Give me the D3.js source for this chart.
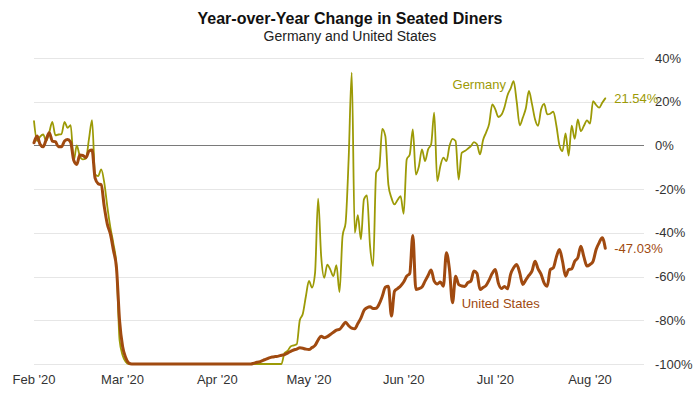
<!DOCTYPE html>
<html lang="en">
<head>
  <meta charset="UTF-8">
  <title>Year-over-Year Change in Seated Diners</title>
  <style>
    body {
      margin: 0;
      background: white;
      font-family: "Liberation Sans", Arial, sans-serif;
    }
    .title {
      font-weight: bold;
      font-size: 16px;
      fill: #111;
    }
    .subtitle {
      font-size: 14px;
      fill: #222;
    }
    .tick-label {
      font-size: 13px;
      fill: #333;
    }
  </style>
</head>
<body>
  <svg></svg>
  <script src="https://d3js.org/d3.v7.min.js"></script>
  <script>
    // daily values, starting Feb 1 2020
    var startDate = "2020-02-01";

    var germany = [
      11.1, 2, 4, 5, 2, 6, 10.8, 4.6, 5, 5.2,
      10.8, 8, 9.3, -7, 0, -4.9, -6.4, -6, 3, 11.6,
      -13.3, -14, -11, -17, -28, -37.5, -45, -55, -89, -96,
      -99, -100, -100, -100, -100, -100, -100, -100, -100, -100,
      -100, -100, -100, -100, -100, -100, -100, -100, -100, -100,
      -100, -100, -100, -100, -100, -100, -100, -100, -100, -100,
      -100, -100, -100, -100, -100, -100, -100, -100, -100, -100,
      -100, -100, -100, -100, -100, -100, -100, -100, -100, -100,
      -100, -100, -95, -94, -92, -91.5, -91, -80, -77, -69,
      -62, -65, -58.3, -24.4, -50.7, -60.6, -54.5, -56.8, -59.8, -54.8,
      -67.1, -41.5, -35.4, -6, 33.3, -40, -31.9, -43, -24.7, -22.9,
      -46.1, -55.2, -12.5, -10.2, 7.6, 4.3, -17.9, -24, -27, -25,
      -23.2, -31.3, -6.4, -4.1, 7.3, -13.3, -9.5, -1.8, -7.2, -1.8,
      0.5, 15, -16.3, -9.5, -5.6, -7.2, -0.3, 3, 2, -15.6,
      -3.4, -2.6, -1.5, -0.3, 1.5, 0.5, -4.1, 2.5, 6, 10,
      18.8, 16.5, 13, 14, 17.5, 23, 26, 29.4, 20, 9.2,
      12.7, 17, 24.9, 19, 12, 9, 16.5, 19, 14.2, 14.5,
      15.5, 9, 0, -2.6, 5.5, -4.6, 9, 3, 11.9, 6.5,
      9, 11.5, 10, 20.3, 18.5, 17.3, 19.5, 21.54
    ];

    var unitedStates = [
      1.2, 4.3, 0.5, -0.6, 2.7, 5.8, 2, 1.7, -0.6, -0.6,
      2, 2.7, 1.5, -6.8, -8.7, -4.4, -4.6, -5.6, -2.6, -2.1,
      -15, -17.5, -18, -28, -36, -40.5, -48, -56, -80, -92,
      -97, -99.5, -100, -100, -100, -100, -100, -100, -100, -100,
      -100, -100, -100, -100, -100, -100, -100, -100, -100, -100,
      -100, -100, -100, -100, -100, -100, -100, -100, -100, -100,
      -100, -100, -100, -100, -100, -100, -100, -100, -100, -100,
      -100, -100, -99.6, -99.2, -98.9, -98.3, -97.8, -97.2, -96.8, -96.6,
      -96.4, -96, -95.7, -95, -94.2, -93.6, -93.2, -92.6, -92.8, -93.2,
      -93.4, -92.5, -91.5, -89, -87.3, -88, -87.5, -86.5, -85.5, -84.5,
      -84.2, -82.5, -80.9, -82.5, -83.6, -83.9, -81.5, -79, -75.5, -74.3,
      -73.8, -74.6, -74.5, -72.5, -69, -64.9, -64.4, -78, -66.7, -65.5,
      -64.3, -62.5, -59.8, -58.6, -41.2, -65.9, -65.5, -64.8, -62.1, -59.5,
      -57, -62.1, -63.4, -62.5, -64.4, -49.1, -56.8, -72, -59.8, -63.6,
      -64.3, -64.5, -62.8, -62.1, -57.5, -58.5, -65.9, -65, -64, -61.5,
      -58.5, -56.8, -63, -65.5, -64.5, -65.6, -59, -56, -54.5, -58.3,
      -63.6, -61.5, -59.5, -57.5, -53, -56.5, -59, -63, -64.4, -56.8,
      -56, -51, -47.6, -53, -59.8, -56.8, -56.5, -53, -51.4, -46.1,
      -51, -55.2, -54.5, -53, -47.6, -44.5, -42.2, -47.03
    ];

    var yTicks = [40, 20, 0, -20, -40, -60, -80, -100];
    var xTickDates = ["2020-02-01", "2020-03-01", "2020-04-01", "2020-05-01",
                      "2020-06-01", "2020-07-01", "2020-08-01"];

    var series = [
      { name: "Germany", values: germany, color: "#9c9a06", width: 1.8,
        labelDate: "2020-06-17", labelValue: 28 },
      { name: "United States", values: unitedStates, color: "#a04a10", width: 3,
        labelDate: "2020-06-20", labelValue: -72.3 }
    ];

    var width = 700;
    var height = 394;
    var parse = d3.utcParse("%Y-%m-%d");
    var start = parse(startDate);

    var x = d3.scaleUtc()
              .domain([start, parse("2020-08-19")])
              .range([34, 645]);

    var y = d3.scaleLinear()
              .domain([-100, 40])
              .range([364, 58]);

    var svg = d3.select("svg")
        .attr("width", width)
        .attr("height", height);

    svg.append("text")
        .attr("class", "title")
        .attr("x", 350)
        .attr("y", 24)
        .attr("text-anchor", "middle")
        .text("Year-over-Year Change in Seated Diners");

    svg.append("text")
        .attr("class", "subtitle")
        .attr("x", 350)
        .attr("y", 41)
        .attr("text-anchor", "middle")
        .text("Germany and United States");

    // grid + right axis labels
    svg.append("g")
      .selectAll("line")
      .data(yTicks)
      .enter()
      .append("line")
        .attr("x1", 34)
        .attr("x2", 644)
        .attr("y1", d => Math.round(y(d)) + 0.5)
        .attr("y2", d => Math.round(y(d)) + 0.5)
        .attr("stroke", d => d === 0 ? "#7a7a7a" : "#e6e6e6")
        .attr("stroke-width", d => d === 0 ? 1.2 : 1);

    svg.append("g")
      .selectAll("text")
      .data(yTicks)
      .enter()
      .append("text")
        .attr("class", "tick-label")
        .attr("x", 655)
        .attr("y", d => y(d))
        .attr("dy", "0.35em")
        .text(d => d + "%");

    svg.append("g")
      .selectAll("text")
      .data(xTickDates.map(parse))
      .enter()
      .append("text")
        .attr("class", "tick-label")
        .attr("x", d => x(d))
        .attr("y", 384)
        .attr("text-anchor", "middle")
        .text(d3.utcFormat("%b '%y"));

    var line = d3.line()
        .x((d, i) => x(d3.utcDay.offset(start, i)))
        .y(d => y(d))
        .curve(d3.curveMonotoneX);

    series.forEach(function(s) {
      svg.append("path")
          .attr("d", line(s.values))
          .attr("fill", "none")
          .attr("stroke", s.color)
          .attr("stroke-width", s.width)
          .attr("stroke-linejoin", "round")
          .attr("stroke-linecap", "round");

      // end value label (plain hyphen, like the original)
      var lastIndex = s.values.length - 1;
      var last = s.values[lastIndex];
      svg.append("text")
          .attr("x", x(d3.utcDay.offset(start, lastIndex)) + 9)
          .attr("y", y(last))
          .attr("dy", "0.35em")
          .attr("fill", s.color)
          .style("font-size", "13px")
          .text(last.toFixed(2) + "%");

      svg.append("text")
          .attr("x", x(parse(s.labelDate)))
          .attr("y", y(s.labelValue))
          .attr("dy", "0.35em")
          .attr("fill", s.color)
          .style("font-size", "13px")
          .text(s.name);
    });
  </script>
</body>
</html>
